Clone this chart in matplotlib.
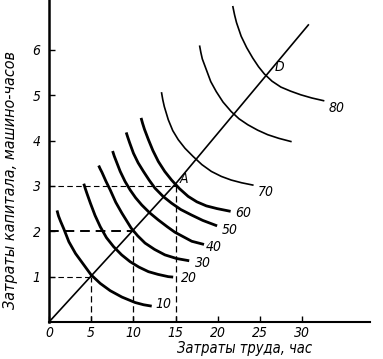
import matplotlib
matplotlib.use("Agg")
import matplotlib.pyplot as plt

plt.rcParams['font.family'] = ['DejaVu Sans']
plt.rcParams['font.stretch'] = 'condensed'

# isoquants (labour, capital)
q10_x = [0.95, 1.12, 1.37, 1.76, 2.35, 3.14, 4.12, 4.98, 6.07, 7.25, 8.63, 10.19, 11.2, 12.16]
q10_y = [2.46, 2.34, 2.22, 2.05, 1.77, 1.51, 1.26, 1.04, 0.85, 0.69, 0.55, 0.43, 0.38, 0.35]
q20_x = [4.12, 4.30, 4.50, 4.90, 5.45, 6.07, 6.80, 7.65, 8.60, 9.60, 10.65, 11.77, 12.90, 14.12, 14.7]
q20_y = [3.05, 2.94, 2.83, 2.62, 2.35, 2.10, 1.86, 1.66, 1.48, 1.33, 1.21, 1.11, 1.05, 1.00, 0.99]
q30_x = [5.88, 6.05, 6.27, 6.75, 7.25, 7.90, 8.63, 9.73, 10.5, 11.37, 12.5, 13.72, 15.1, 16.6]
q30_y = [3.45, 3.38, 3.30, 3.10, 2.91, 2.64, 2.40, 2.07, 1.90, 1.74, 1.60, 1.48, 1.40, 1.35]
q40_x = [7.53, 7.72, 7.95, 8.43, 9.0, 9.61, 10.25, 10.98, 11.9, 12.94, 14.0, 14.9, 16.9, 18.35]
q40_y = [3.77, 3.66, 3.55, 3.32, 3.10, 2.91, 2.74, 2.58, 2.41, 2.25, 2.10, 1.98, 1.78, 1.71]
q50_x = [9.14, 9.33, 9.55, 10.0, 10.55, 11.18, 11.85, 12.55, 13.5, 14.51, 15.6, 16.86, 18.2, 19.9]
q50_y = [4.18, 4.07, 3.95, 3.72, 3.51, 3.32, 3.13, 2.95, 2.77, 2.62, 2.48, 2.36, 2.24, 2.12]
q60_x = [10.9, 11.08, 11.3, 11.77, 12.3, 12.94, 13.7, 14.51, 15.45, 16.47, 17.5, 18.63, 19.9, 21.5]
q60_y = [4.50, 4.38, 4.25, 4.02, 3.78, 3.54, 3.32, 3.13, 2.94, 2.77, 2.65, 2.56, 2.50, 2.44]
q70_x = [13.33, 13.47, 13.65, 14.12, 14.65, 15.30, 16.1, 17.06, 18.1, 19.22, 20.4, 21.57, 22.8, 24.12]
q70_y = [5.05, 4.90, 4.75, 4.46, 4.22, 4.02, 3.83, 3.65, 3.47, 3.32, 3.21, 3.13, 3.07, 3.02]
q75_x = [17.84, 17.98, 18.15, 18.63, 19.15, 19.80, 20.6, 21.57, 22.5, 23.53, 24.7, 25.89, 27.2, 28.63]
q75_y = [6.08, 5.94, 5.80, 5.56, 5.30, 5.08, 4.85, 4.64, 4.48, 4.35, 4.23, 4.13, 4.05, 3.98]
q80_x = [21.77, 21.97, 22.2, 22.75, 23.4, 24.12, 24.8, 25.49, 26.4, 27.45, 28.6, 29.8, 31.1, 32.5]
q80_y = [6.95, 6.77, 6.60, 6.30, 6.05, 5.82, 5.63, 5.47, 5.31, 5.18, 5.09, 5.01, 4.94, 4.88]

# ray from origin
ray_x = [0, 15, 30.7]
ray_y = [0, 3.05, 6.55]

# dashed guides
guide_x = [5, 10, 15]
guide_y = [1, 2, 3]

labels = ["10", "20", "30", "40", "50", "60", "70", "80"]
label_x = [12.6, 15.6, 17.3, 18.6, 20.4, 22.1, 24.7, 33.1]
label_y = [0.40, 0.96, 1.29, 1.66, 2.03, 2.40, 2.86, 4.71]

fig = plt.figure(figsize=(3.83, 3.59), dpi=100)
ax = fig.add_axes([49/383, 37/359, 321/383, 322/359])

thick = [(q10_x, q10_y), (q20_x, q20_y), (q30_x, q30_y), (q40_x, q40_y),
         (q50_x, q50_y), (q60_x, q60_y)]
thin = [(q70_x, q70_y), (q75_x, q75_y), (q80_x, q80_y)]
for xs, ys in thick:
    ax.plot(xs, ys, color='black', lw=2.0, solid_capstyle='butt', solid_joinstyle='round')
for xs, ys in thin:
    ax.plot(xs, ys, color='black', lw=1.2, solid_joinstyle='round')

ax.plot(ray_x, ray_y, color='black', lw=1.2)

for gx, gy in zip(guide_x, guide_y):
    w = 1.4 if gy == 2 else 0.8
    ax.plot([0, gx], [gy, gy], color='black', lw=w, ls=(0, (5, 3)))
    ax.plot([gx, gx], [0, gy], color='black', lw=0.9, ls=(0, (5, 3)))

tfont = dict(fontsize=10, style='italic', color='black')
for t, x, y in zip(labels, label_x, label_y):
    ax.text(x, y, t, ha='left', va='center', **tfont)
ax.text(15.5, 3.15, "A", ha='left', va='center', **tfont)
ax.text(26.7, 5.62, "D", ha='left', va='center', **tfont)

ax.set_xlim(0, 38)
ax.set_ylim(0, 7.1)
ax.spines['top'].set_visible(False)
ax.spines['right'].set_visible(False)
ax.spines['left'].set_linewidth(1.8)
ax.spines['bottom'].set_linewidth(1.5)

ax.set_xticks([0, 5, 10, 15, 20, 25, 30])
ax.set_yticks([1, 2, 3, 4, 5, 6])
ax.tick_params(direction='in', length=4, width=1, labelsize=10)
ax.tick_params(axis='x', pad=3)
ax.tick_params(axis='y', pad=6)
for lab in ax.get_xticklabels() + ax.get_yticklabels():
    lab.set_style('italic')

ax.set_xlabel("Затраты труда, час", fontsize=10.5, style='italic')
ax.xaxis.set_label_coords(0.61, -0.058)
ax.set_ylabel("Затраты капитала, машино-часов", fontsize=11.5, style='italic')
ax.yaxis.set_label_coords(-0.098, 0.44)

fig.savefig("out.png", dpi=100)
